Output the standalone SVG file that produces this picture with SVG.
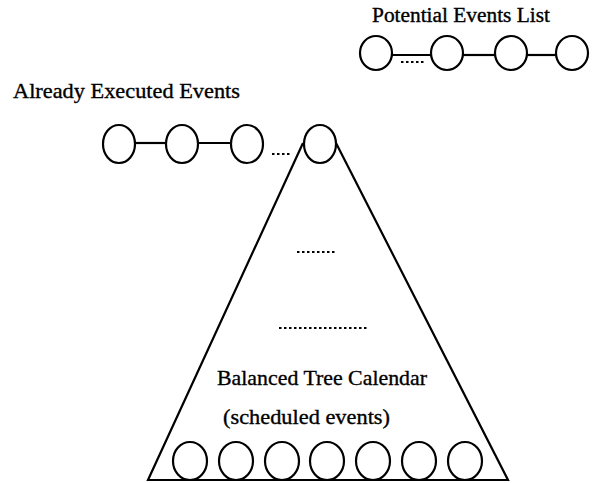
<svg xmlns="http://www.w3.org/2000/svg" width="597" height="483" viewBox="0 0 597 483">
<style>
.n{fill:#fff;stroke:#000;stroke-width:2.2}
.l{stroke:#000;stroke-width:2.2;fill:none}
.t{font-family:"Liberation Serif","Times New Roman",serif;fill:#000;stroke:#000;stroke-width:0.35}
.d{stroke:#000;stroke-width:2;stroke-dasharray:2.5 2.5;fill:none}
</style>
<rect width="597" height="483" fill="#fff"/>
<g id="connectors">
<line class="l" x1="392" y1="55" x2="431" y2="55"/>
<line class="l" x1="463" y1="55" x2="495" y2="55"/>
<line class="l" x1="527" y1="55" x2="556" y2="55"/>
<line class="d" x1="401" y1="62" x2="425" y2="62"/>
<line class="l" x1="135" y1="143" x2="166" y2="143" stroke-width="1.5"/>
<line class="l" x1="198" y1="143" x2="231" y2="143" stroke-width="1.5"/>
<line class="d" x1="272" y1="154" x2="290" y2="154"/>
</g>
<g id="tree">
<polyline class="l" points="303,143 148,480 508,480 336,143"/>
<line class="d" x1="297" y1="252" x2="336" y2="252"/>
<line class="d" x1="279" y1="328" x2="367" y2="328"/>
</g>
<g id="potential-1"><ellipse class="n" cx="376" cy="53" rx="16" ry="17"/></g>
<g id="potential-2"><ellipse class="n" cx="447" cy="53" rx="16" ry="17"/></g>
<g id="potential-3"><ellipse class="n" cx="511" cy="53" rx="16" ry="17"/></g>
<g id="potential-4"><ellipse class="n" cx="572" cy="53" rx="16" ry="17"/></g>
<g id="executed-1"><ellipse class="n" cx="119" cy="144" rx="16" ry="19"/></g>
<g id="executed-2"><ellipse class="n" cx="182" cy="144" rx="16" ry="19"/></g>
<g id="executed-3"><ellipse class="n" cx="247" cy="144" rx="16" ry="19"/></g>
<g id="root"><ellipse class="n" cx="320" cy="144" rx="16" ry="19"/></g>
<g id="leaves">
<ellipse class="n" cx="190" cy="461" rx="17" ry="19"/>
<ellipse class="n" cx="236" cy="461" rx="17" ry="19"/>
<ellipse class="n" cx="282" cy="461" rx="17" ry="19"/>
<ellipse class="n" cx="327" cy="461" rx="17" ry="19"/>
<ellipse class="n" cx="373" cy="461" rx="17" ry="19"/>
<ellipse class="n" cx="419" cy="461" rx="17" ry="19"/>
<ellipse class="n" cx="465" cy="461" rx="17" ry="19"/>
</g>
<g id="labels">
<text class="t" x="372" y="22" font-size="20" textLength="178" lengthAdjust="spacingAndGlyphs">Potential Events List</text>
<text class="t" x="13" y="98" font-size="21" textLength="227" lengthAdjust="spacingAndGlyphs">Already Executed Events</text>
<text class="t" x="217" y="385" font-size="22" textLength="210" lengthAdjust="spacingAndGlyphs">Balanced Tree Calendar</text>
<text class="t" x="223" y="424" font-size="21" textLength="167" lengthAdjust="spacingAndGlyphs">(scheduled events)</text>
</g>
</svg>
